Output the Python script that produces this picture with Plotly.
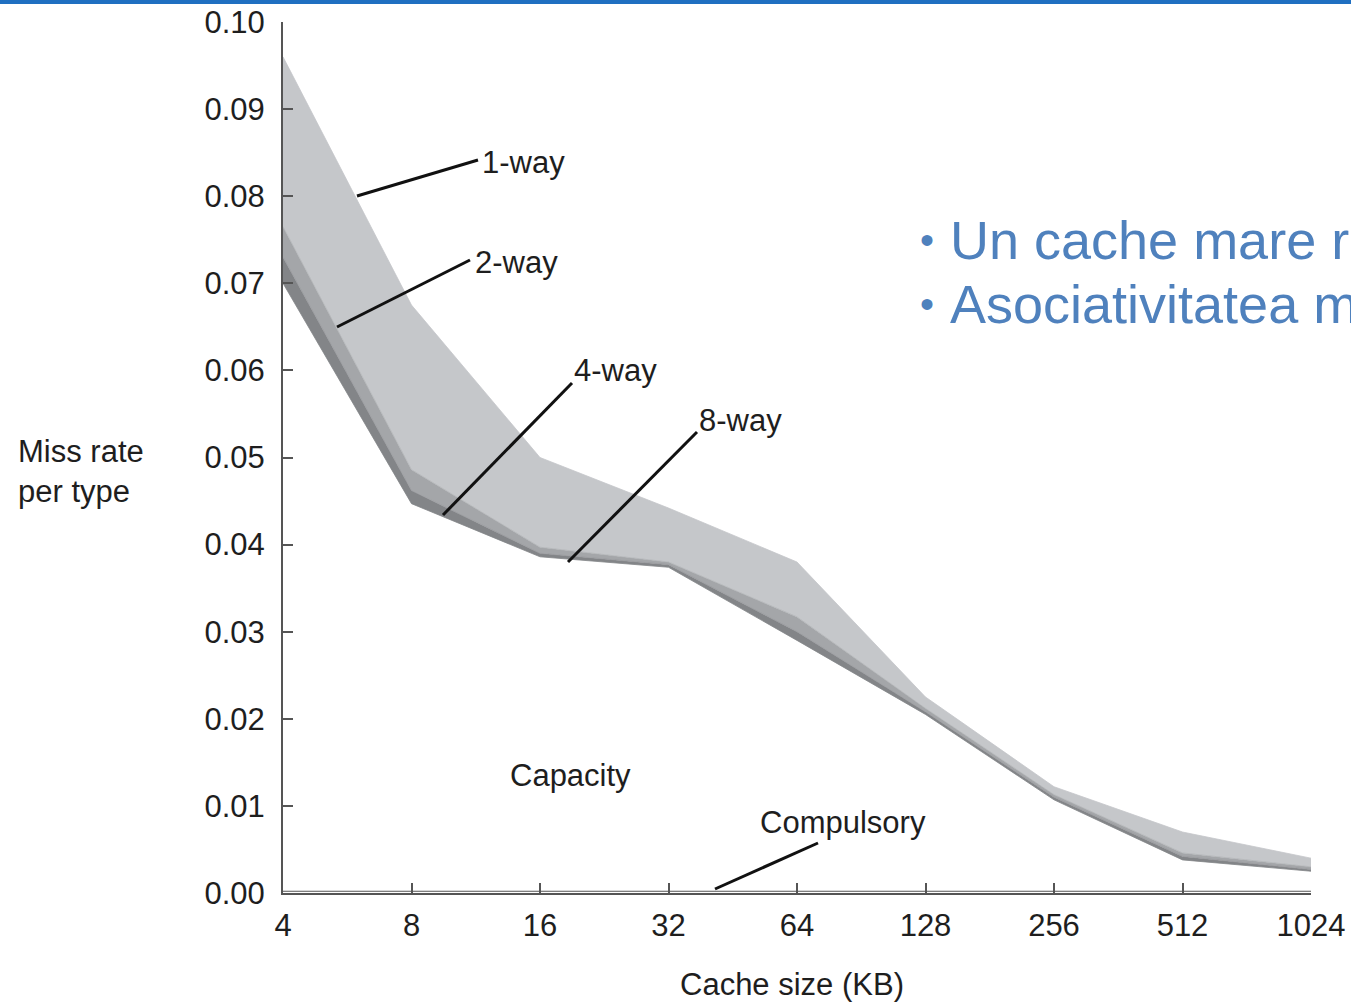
import plotly.graph_objects as go

# ---- data ----
cache_kb = [4, 8, 16, 32, 64, 128, 256, 512, 1024]
tick_labels = ["4", "8", "16", "32", "64", "128", "256", "512", "1024"]
miss_1way = [0.0960, 0.0675, 0.0500, 0.0442, 0.0380, 0.0225, 0.0122, 0.0070, 0.0040]
miss_2way = [0.0765, 0.0486, 0.0397, 0.0380, 0.0317, 0.0212, 0.0113, 0.0046, 0.0030]
miss_4way = [0.0730, 0.0462, 0.0390, 0.0377, 0.0300, 0.0208, 0.0110, 0.0042, 0.0027]
miss_8way = [0.0700, 0.0447, 0.0386, 0.0374, 0.0290, 0.0205, 0.0107, 0.0038, 0.0025]
compulsory = [0.0002, 0.0002, 0.0002, 0.0002, 0.0002, 0.0002, 0.0002, 0.0002, 0.0002]
y_ticks = [0.00, 0.01, 0.02, 0.03, 0.04, 0.05, 0.06, 0.07, 0.08, 0.09, 0.10]

W, H = 1351, 1002
L, R, T, B = 283, 1311, 22, 893  # plot area in pixels


def px(xp):
    return (xp - L) / (R - L)


def py(yp):
    return (B - yp) / (B - T)


FONT = "Liberation Sans Narrow, Arial Narrow, Liberation Sans, Arial, sans-serif"
TXT = "#1e1e1e"

fig = go.Figure()
fig.add_trace(go.Scatter(x=cache_kb, y=miss_8way, mode="lines",
                         line=dict(color="#838588", width=0.8), showlegend=False))
fig.add_trace(go.Scatter(x=cache_kb, y=miss_4way, mode="lines", fill="tonexty",
                         fillcolor="#838588", line=dict(color="#949699", width=0.8),
                         showlegend=False))
fig.add_trace(go.Scatter(x=cache_kb, y=miss_2way, mode="lines", fill="tonexty",
                         fillcolor="#a4a6a9", line=dict(color="#b0b2b5", width=0.8),
                         showlegend=False))
fig.add_trace(go.Scatter(x=cache_kb, y=miss_1way, mode="lines", fill="tonexty",
                         fillcolor="#c5c7ca", line=dict(color="#c5c7ca", width=0.8),
                         showlegend=False))
fig.add_trace(go.Scatter(x=cache_kb, y=compulsory, mode="lines",
                         line=dict(color="#555555", width=1), showlegend=False))

shapes = []
annotations = []

# leader lines for labels (pixel positions converted to paper)
leaders = [
    ((357, 196), (478, 160)),
    ((337, 327), (470, 260)),
    ((443, 515), (572, 383)),
    ((568, 562), (697, 432)),
    ((715, 889), (818, 843)),
]
for (x0, y0), (x1, y1) in leaders:
    shapes.append(dict(type="line", xref="paper", yref="paper",
                       x0=px(x0), y0=py(y0), x1=px(x1), y1=py(y1),
                       line=dict(color="#111111", width=3)))

labels = [
    ("1-way", 480, 162, "left"),
    ("2-way", 473, 262, "left"),
    ("4-way", 572, 370, "left"),
    ("8-way", 697, 420, "left"),
    ("Capacity", 570, 775, "center"),
    ("Compulsory", 843, 822, "center"),
]
for txt, xp, yp, anc in labels:
    annotations.append(dict(text=txt, xref="paper", yref="paper", x=px(xp), y=py(yp),
                            xanchor=anc, yanchor="middle", showarrow=False,
                            font=dict(family=FONT, size=31, color=TXT)))

# y axis title
annotations.append(dict(text="Miss rate<br>per type", xref="paper", yref="paper",
                        x=px(16), y=py(471), xanchor="left", yanchor="middle",
                        align="left", showarrow=False,
                        font=dict(family=FONT, size=31, color=TXT)))
# x axis title
annotations.append(dict(text="Cache size (KB)", xref="paper", yref="paper",
                        x=px(792), y=py(984), xanchor="center", yanchor="middle",
                        showarrow=False, font=dict(family=FONT, size=31, color=TXT)))

# slide bullet text (clipped at right edge like the reference)
BLUE = "#4f81bd"
for txt, yp in [("Un cache mare reduce ratele de miss de capacitate", 240),
                ("Asociativitatea mare reduce ratele de miss de conflict", 304)]:
    annotations.append(dict(text="•", xref="paper", yref="paper", x=px(918), y=py(yp),
                            xanchor="left", yanchor="middle", showarrow=False,
                            font=dict(family="Liberation Sans, Arial, sans-serif",
                                      size=40, color=BLUE)))
    annotations.append(dict(text=txt, xref="paper", yref="paper", x=px(948), y=py(yp),
                            xanchor="left", yanchor="middle", showarrow=False,
                            font=dict(family="Liberation Sans, Arial, sans-serif",
                                      size=54, color=BLUE)))

# blue top rule of the slide
shapes.append(dict(type="rect", xref="paper", yref="paper", x0=-1, x1=2,
                   y0=py(4), y1=py(-2), line=dict(width=0), fillcolor="#1f6fc1"))

fig.update_layout(
    width=W, height=H, autosize=False,
    margin=dict(l=L, r=W - R, t=T, b=H - B),
    paper_bgcolor="white", plot_bgcolor="white",
    shapes=shapes, annotations=annotations,
    showlegend=False,
)
fig.update_xaxes(type="log", range=[0.60206, 3.0103], tickvals=cache_kb,
                 ticktext=tick_labels, ticks="inside", ticklen=10, tickwidth=2,
                 tickcolor="#555555", showline=True, linecolor="#555555", linewidth=2,
                 showgrid=False, zeroline=False, ticklabelstandoff=4, automargin=False,
                 tickfont=dict(family=FONT, size=31, color=TXT))
fig.update_yaxes(range=[0, 0.10], tickvals=y_ticks, tickformat=".2f",
                 ticks="inside", ticklen=10, tickwidth=2, tickcolor="#555555",
                 showline=True, linecolor="#555555", linewidth=2,
                 showgrid=False, zeroline=False, ticklabelstandoff=10, automargin=False,
                 tickfont=dict(family=FONT, size=31, color=TXT))

fig.write_html(
    "out.html",
    config={"responsive": False, "displayModeBar": False, "staticPlot": True},
    post_script="document.body.style.margin='0';document.body.style.overflow='hidden';",
)
